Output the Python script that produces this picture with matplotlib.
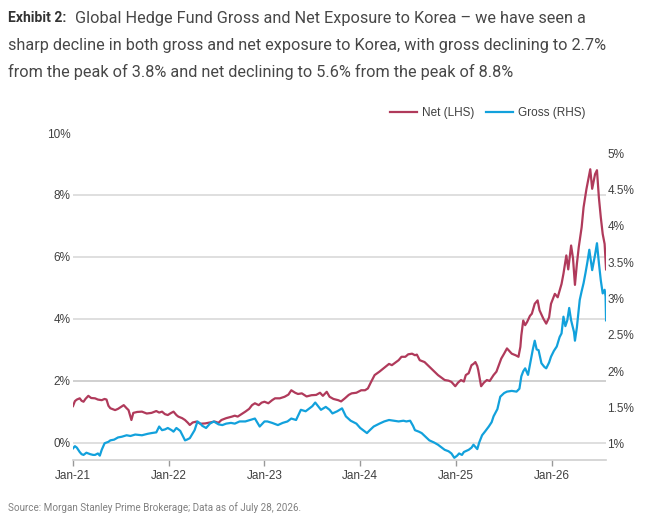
import numpy as np
import pandas as pd
import matplotlib
matplotlib.use("Agg")
import matplotlib.pyplot as plt
from matplotlib.lines import Line2D

# decimal years, values in %
net_t = [2021.00, 2021.02, 2021.04, 2021.07, 2021.09, 2021.11, 2021.13, 2021.16, 2021.19, 2021.23,
         2021.26, 2021.30, 2021.33, 2021.35, 2021.37, 2021.39, 2021.44, 2021.47, 2021.49, 2021.53,
         2021.56, 2021.58, 2021.60, 2021.61, 2021.63, 2021.67, 2021.72, 2021.77, 2021.82, 2021.87,
         2021.90, 2021.93, 2021.96, 2021.99, 2022.02, 2022.05, 2022.08, 2022.10, 2022.14, 2022.17,
         2022.20, 2022.22, 2022.25, 2022.29, 2022.33, 2022.38, 2022.43, 2022.48, 2022.52, 2022.55,
         2022.60, 2022.66, 2022.69, 2022.72, 2022.76, 2022.80, 2022.84, 2022.87, 2022.90, 2022.94,
         2022.97, 2023.00, 2023.04, 2023.08, 2023.11, 2023.16, 2023.21, 2023.25, 2023.28, 2023.32,
         2023.35, 2023.39, 2023.44, 2023.49, 2023.54, 2023.58, 2023.61, 2023.65, 2023.68, 2023.72,
         2023.77, 2023.80, 2023.84, 2023.88, 2023.91, 2023.96, 2024.01, 2024.05, 2024.08, 2024.11,
         2024.15, 2024.20, 2024.26, 2024.30, 2024.33, 2024.37, 2024.40, 2024.43, 2024.47, 2024.50,
         2024.54, 2024.57, 2024.59, 2024.62, 2024.67, 2024.70, 2024.74, 2024.78, 2024.81, 2024.85,
         2024.88, 2024.92, 2024.95, 2024.97, 2024.99, 2025.02, 2025.05, 2025.08, 2025.10, 2025.13,
         2025.16, 2025.18, 2025.20, 2025.22, 2025.23, 2025.25, 2025.26, 2025.29, 2025.32, 2025.35,
         2025.39, 2025.42, 2025.45, 2025.47, 2025.50, 2025.53, 2025.56, 2025.58, 2025.62, 2025.65,
         2025.67, 2025.68, 2025.70, 2025.72, 2025.74, 2025.77, 2025.79, 2025.82, 2025.85, 2025.87,
         2025.91, 2025.94, 2025.97, 2025.99, 2026.03, 2026.06, 2026.10, 2026.12, 2026.15, 2026.17,
         2026.20, 2026.22, 2026.24, 2026.26, 2026.28, 2026.31, 2026.33, 2026.36, 2026.40, 2026.42,
         2026.45, 2026.47, 2026.49, 2026.51, 2026.53, 2026.55, 2026.56, 2026.565]
net_v = [1.19, 1.35, 1.40, 1.44, 1.36, 1.33, 1.42, 1.52, 1.45, 1.44,
         1.40, 1.38, 1.42, 1.40, 1.20, 1.12, 1.06, 1.10, 1.14, 1.22,
         1.12, 1.06, 0.85, 0.74, 0.97, 1.00, 1.01, 0.95, 0.97, 1.03,
         0.98, 1.01, 0.93, 0.90, 0.96, 1.01, 0.90, 0.85, 0.80, 0.74,
         0.65, 0.58, 0.66, 0.69, 0.62, 0.63, 0.66, 0.69, 0.65, 0.74,
         0.80, 0.85, 0.88, 0.85, 0.93, 1.01, 1.10, 1.22, 1.28, 1.22,
         1.30, 1.33, 1.28, 1.38, 1.44, 1.44, 1.49, 1.56, 1.70, 1.62,
         1.58, 1.60, 1.50, 1.54, 1.55, 1.62, 1.52, 1.65, 1.49, 1.42,
         1.38, 1.34, 1.44, 1.55, 1.60, 1.62, 1.70, 1.70, 1.76, 1.95,
         2.19, 2.30, 2.45, 2.55, 2.51, 2.60, 2.67, 2.78, 2.78, 2.86,
         2.88, 2.83, 2.85, 2.67, 2.61, 2.52, 2.40, 2.28, 2.19, 2.10,
         2.03, 2.01, 1.97, 1.90, 1.83, 1.95, 2.03, 1.98, 2.19, 2.25,
         2.51, 2.55, 2.61, 2.48, 2.35, 2.00, 1.83, 1.95, 2.03, 2.00,
         2.19, 2.30, 2.55, 2.72, 2.88, 3.05, 2.95, 2.88, 2.83, 2.78,
         3.10, 3.47, 3.95, 3.80, 3.90, 4.10, 4.17, 4.49, 4.60, 4.28,
         4.01, 3.85, 4.05, 4.49, 4.81, 4.70, 5.13, 5.46, 6.05, 5.60,
         6.37, 5.95, 5.10, 5.77, 6.32, 6.96, 7.60, 8.19, 8.83, 8.20,
         8.67, 8.80, 7.92, 7.28, 6.74, 6.42, 5.88, 5.60]

gross_t = [2021.00, 2021.02, 2021.04, 2021.07, 2021.09, 2021.11, 2021.14, 2021.18, 2021.21, 2021.23,
           2021.26, 2021.28, 2021.30, 2021.33, 2021.37, 2021.39, 2021.43, 2021.47, 2021.51, 2021.56,
           2021.60, 2021.65, 2021.72, 2021.78, 2021.82, 2021.87, 2021.90, 2021.93, 2021.96, 2021.99,
           2022.03, 2022.05, 2022.08, 2022.12, 2022.15, 2022.17, 2022.19, 2022.22, 2022.27, 2022.30,
           2022.33, 2022.35, 2022.39, 2022.43, 2022.47, 2022.52, 2022.56, 2022.60, 2022.65, 2022.69,
           2022.74, 2022.80, 2022.85, 2022.90, 2022.95, 2023.00, 2023.03, 2023.08, 2023.14, 2023.19,
           2023.24, 2023.28, 2023.33, 2023.38, 2023.43, 2023.47, 2023.50, 2023.53, 2023.56, 2023.59,
           2023.64, 2023.68, 2023.71, 2023.76, 2023.81, 2023.85, 2023.90, 2023.96, 2024.00, 2024.05,
           2024.07, 2024.10, 2024.14, 2024.20, 2024.25, 2024.30, 2024.35, 2024.40, 2024.45, 2024.48,
           2024.52, 2024.55, 2024.57, 2024.61, 2024.64, 2024.68, 2024.72, 2024.77, 2024.81, 2024.85,
           2024.88, 2024.92, 2024.95, 2024.98, 2025.01, 2025.03, 2025.06, 2025.08, 2025.13, 2025.16,
           2025.18, 2025.20, 2025.22, 2025.24, 2025.27, 2025.30, 2025.34, 2025.37, 2025.39, 2025.43,
           2025.46, 2025.50, 2025.53, 2025.58, 2025.63, 2025.66, 2025.68, 2025.70, 2025.72, 2025.75,
           2025.77, 2025.80, 2025.82, 2025.84, 2025.86, 2025.89, 2025.92, 2025.94, 2025.97, 2025.99,
           2026.02, 2026.05, 2026.08, 2026.10, 2026.12, 2026.14, 2026.16, 2026.18, 2026.20, 2026.23,
           2026.24, 2026.26, 2026.29, 2026.31, 2026.33, 2026.35, 2026.37, 2026.39, 2026.42, 2026.45,
           2026.47, 2026.49, 2026.51, 2026.53, 2026.55, 2026.56, 2026.565]
gross_v = [0.94, 0.97, 0.95, 0.89, 0.86, 0.85, 0.88, 0.86, 0.85, 0.85,
           0.87, 0.84, 0.92, 1.01, 1.03, 1.05, 1.06, 1.09, 1.10, 1.12,
           1.11, 1.13, 1.12, 1.14, 1.15, 1.16, 1.24, 1.19, 1.20, 1.22,
           1.19, 1.17, 1.22, 1.18, 1.10, 1.05, 1.06, 1.08, 1.19, 1.31,
           1.28, 1.25, 1.22, 1.28, 1.31, 1.27, 1.26, 1.28, 1.29, 1.28,
           1.31, 1.31, 1.33, 1.35, 1.24, 1.31, 1.31, 1.29, 1.26, 1.29,
           1.31, 1.35, 1.33, 1.47, 1.45, 1.49, 1.52, 1.57, 1.52, 1.47,
           1.51, 1.47, 1.42, 1.45, 1.49, 1.38, 1.32, 1.28, 1.22, 1.17,
           1.15, 1.19, 1.24, 1.28, 1.31, 1.33, 1.32, 1.31, 1.32, 1.31,
           1.32, 1.25, 1.19, 1.17, 1.15, 1.10, 1.05, 1.02, 0.99, 0.95,
           0.92, 0.90, 0.87, 0.81, 0.84, 0.87, 0.85, 0.89, 0.92, 0.95,
           0.99, 0.96, 0.93, 1.02, 1.12, 1.17, 1.24, 1.30, 1.38, 1.48,
           1.65, 1.70, 1.72, 1.73, 1.72, 1.76, 1.93, 2.00, 2.04, 1.95,
           2.09, 2.30, 2.42, 2.30, 2.29, 2.11, 2.06, 2.04, 2.12, 2.20,
           2.28, 2.34, 2.47, 2.52, 2.75, 2.62, 2.70, 2.87, 2.70, 2.54,
           2.42, 2.60, 2.98, 3.10, 3.21, 3.35, 3.50, 3.67, 3.39, 3.60,
           3.76, 3.49, 3.25, 3.07, 3.12, 3.03, 2.70]

left_ticks = [0, 2, 4, 6, 8, 10]
right_ticks = [1, 1.5, 2, 2.5, 3, 3.5, 4, 4.5, 5]
year_ticks = [2021, 2022, 2023, 2024, 2025, 2026]


def to_date(ys):
    out = []
    for y in ys:
        yr = int(np.floor(y))
        start = pd.Timestamp(year=yr, month=1, day=1)
        days = (pd.Timestamp(year=yr + 1, month=1, day=1) - start).days
        out.append(start + pd.Timedelta(days=(y - yr) * days))
    return out


net_d = to_date(net_t)
gross_d = to_date(gross_t)

net_col = "#B03A5B"
gross_col = "#12A1DC"
tick_col = "#404040"
grid_col = "#d9d9d9"

fig = plt.figure(figsize=(6.52, 5.27), dpi=100)
ax = fig.add_axes([73 / 652, 67 / 527, 533 / 652, 327 / 527])
ax2 = ax.twinx()

for y in [0, 2, 4, 6, 8]:
    ax.axhline(y, color="#c8c8c8" if y == 2 else grid_col, lw=1.2, zorder=0)

ax.plot(net_d, net_v, color=net_col, lw=1.6, zorder=3)
ax2.plot(gross_d, gross_v, color=gross_col, lw=1.6, zorder=3)

ax.set_xlim(pd.Timestamp("2021-01-01"), pd.Timestamp("2026-07-26"))
ax.set_ylim(-0.55, 10.0)
ax2.set_ylim(0.78, 5.275)

ax.set_yticks(left_ticks)
ax.set_yticklabels([f"{t}%" for t in left_ticks])
ax2.set_yticks(right_ticks)
ax2.set_yticklabels([f"{t:g}%" for t in right_ticks])
ax.set_xticks([pd.Timestamp(year=y, month=1, day=1) for y in year_ticks])
ax.set_xticklabels([f"Jan-{y % 100}" for y in year_ticks])

for a in (ax, ax2):
    for s in a.spines.values():
        s.set_visible(False)
ax.spines["bottom"].set_visible(True)
ax.spines["bottom"].set_color("#cfcfcf")
ax.spines["bottom"].set_linewidth(1.2)

ax.tick_params(axis="y", length=0, pad=2, labelsize=8.5, labelcolor=tick_col)
ax2.tick_params(axis="y", length=0, pad=1, labelsize=8.5, labelcolor=tick_col)
ax.tick_params(axis="x", length=4, width=1, color="#999999", pad=3,
               labelsize=8.5, labelcolor=tick_col)
for lab in ax.get_xticklabels() + ax.get_yticklabels() + ax2.get_yticklabels():
    lab.set_family(["Liberation Sans", "DejaVu Sans"])

handles = [Line2D([], [], color=net_col, lw=1.6), Line2D([], [], color=gross_col, lw=1.6)]
fig.legend(handles, ["Net (LHS)", "Gross (RHS)"], loc="center left",
           bbox_to_anchor=(379 / 652, 1 - 113 / 527), ncol=2, frameon=False,
           handlelength=2.3, handletextpad=0.4, columnspacing=1.0,
           prop={"family": "Liberation Sans", "size": 8.5}, labelcolor=tick_col)

title_font = ["Roboto", "DejaVu Sans"]
tsize = 11.7
fig.text(8 / 652, 1 - 18 / 527, "Exhibit 2:", fontsize=10.0, fontweight="bold",
         family=title_font, color="#333333", va="center")
fig.text(75 / 652, 1 - 18 / 527,
         "Global Hedge Fund Gross and Net Exposure to Korea \u2013 we have seen a",
         fontsize=tsize, family=title_font, color="#474747", va="center")
fig.text(8 / 652, 1 - 45 / 527,
         "sharp decline in both gross and net exposure to Korea, with gross declining to 2.7%",
         fontsize=tsize, family=title_font, color="#474747", va="center")
fig.text(8 / 652, 1 - 72 / 527,
         "from the peak of 3.8% and net declining to 5.6% from the peak of 8.8%",
         fontsize=tsize, family=title_font, color="#474747", va="center")

fig.text(8 / 652, 1 - 508 / 527,
         "Source: Morgan Stanley Prime Brokerage; Data as of July 28, 2026.",
         fontsize=7.15, family=title_font, color="#808080", va="center")

fig.savefig("out.png", dpi=100)
